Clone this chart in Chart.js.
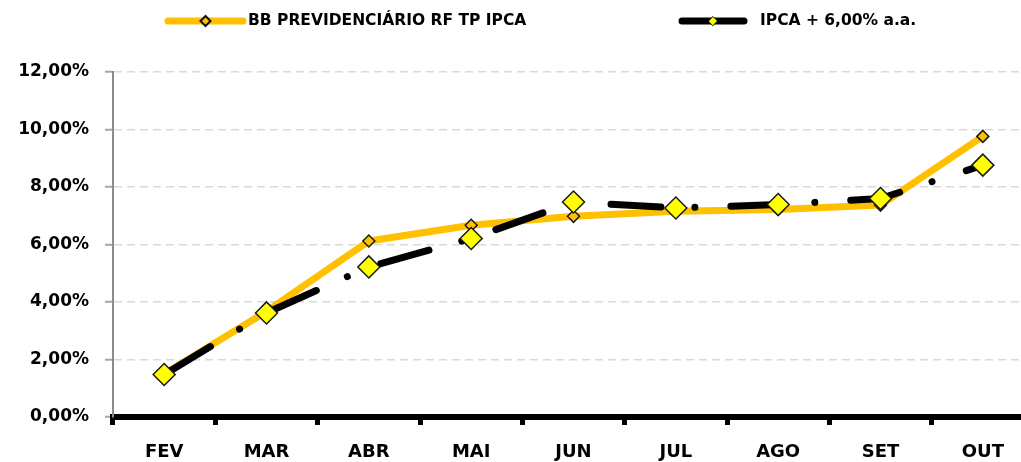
<!DOCTYPE html>
<html>
<head>
<meta charset="utf-8">
<script src="https://cdn.jsdelivr.net/npm/chart.js@4"></script>
<style>
  html, body { margin: 0; padding: 0; background: #fff; overflow: hidden; }
  canvas { display: block; }
</style>
</head>
<body>
<canvas id="chart" width="1021" height="462"></canvas>
<script>
// data
let months = ["FEV", "MAR", "ABR", "MAI", "JUN", "JUL", "AGO", "SET", "OUT"];
let fundName = "BB PREVIDENCIÁRIO RF TP IPCA";
let fundValues = [1.50, 3.67, 6.12, 6.67, 6.98, 7.16, 7.22, 7.37, 9.76];
let benchName = "IPCA + 6,00% a.a.";
let benchValues = [1.48, 3.62, 5.22, 6.21, 7.48, 7.27, 7.39, 7.60, 8.76];
let yTicks = [0, 2, 4, 6, 8, 10, 12];

let orange = "#FFC000";
let yellow = "#FFFF00";

Chart.defaults.font.family = "'DejaVu Sans', sans-serif";
Chart.defaults.font.weight = "bold";
Chart.defaults.color = "#000";

function pct(v) {
  return v.toFixed(2).replace(".", ",") + "%";
}

// legend drawn by hand: line sample with a diamond in the middle
function diamond(ctx, x, y, r, fill, stroke, lw) {
  ctx.beginPath();
  ctx.moveTo(x - r, y);
  ctx.lineTo(x, y - r);
  ctx.lineTo(x + r, y);
  ctx.lineTo(x, y + r);
  ctx.closePath();
  ctx.fillStyle = fill;
  ctx.fill();
  ctx.lineWidth = lw;
  ctx.strokeStyle = stroke;
  ctx.stroke();
}

const legendPlugin = {
  id: "lineLegend",
  afterDraw(chart) {
    const ctx = chart.ctx;
    const items = [
      { x1: 168, x2: 243, tx: 248, color: orange, mark: orange, r: 5, ds: 0 },
      { x1: 682, x2: 744, tx: 760, color: "#000", mark: yellow, r: 4.5, ds: 1 }
    ];
    const y = 21;
    ctx.save();
    items.forEach(it => {
      ctx.beginPath();
      ctx.moveTo(it.x1, y);
      ctx.lineTo(it.x2, y);
      ctx.lineWidth = 7;
      ctx.lineCap = "round";
      ctx.strokeStyle = it.color;
      ctx.stroke();
      diamond(ctx, (it.x1 + it.x2) / 2, y, it.r, it.mark, "#111", it.ds == 0 ? 2 : 1);
      ctx.fillStyle = "#000";
      ctx.font = "bold 15.5px 'DejaVu Sans'";
      ctx.textBaseline = "middle";
      ctx.textAlign = "left";
      ctx.fillText(chart.data.datasets[it.ds].label, it.tx, y);
    });
    ctx.restore();
  }
};

// the original plot area runs a little past the right edge of the picture
const plotRight = 1034;
const widenPlugin = {
  id: "widen",
  afterLayout(chart) {
    const x = chart.scales.x;
    chart.chartArea.right = plotRight;
    chart.chartArea.width = plotRight - chart.chartArea.left;
    x.right = plotRight;
    x.width = plotRight - x.left;
    x.configure();
  }
};

let ctx = document.getElementById("chart").getContext("2d");
let chart = new Chart(ctx, {
  type: "line",
  data: {
    labels: months,
    datasets: [
      {
        label: fundName,
        data: fundValues,
        order: 1,
        borderColor: orange,
        borderWidth: 7,
        borderJoinStyle: "round",
        borderCapStyle: "round",
        tension: 0,
        pointStyle: "rectRot",
        pointRadius: 6,
        pointBackgroundColor: orange,
        pointBorderColor: "#1a1a1a",
        pointBorderWidth: 1.5
      },
      {
        label: benchName,
        data: benchValues,
        order: 0,
        borderColor: "#000",
        borderWidth: 7,
        borderCapStyle: "round",
        borderJoinStyle: "round",
        borderDash: [50, 34, 0.01, 36],
        borderDashOffset: 116,
        tension: 0,
        pointStyle: "rectRot",
        pointRadius: 11,
        pointBackgroundColor: yellow,
        pointBorderColor: "#1a1a1a",
        pointBorderWidth: 1.5
      }
    ]
  },
  options: {
    responsive: false,
    animation: false,
    layout: { padding: { top: 72, left: 0, right: 0, bottom: 0 } },
    plugins: {
      legend: { display: false },
      tooltip: { enabled: false }
    },
    scales: {
      x: {
        offset: true,
        afterFit: s => { s.height = 45; },
        grid: {
          offset: true,
          drawOnChartArea: false,
          drawTicks: true,
          tickLength: 8,
          tickWidth: 5,
          tickColor: "#000"
        },
        border: { display: true, color: "#000", width: 6 },
        ticks: {
          autoSkip: false,
          maxRotation: 0,
          padding: 17,
          font: { size: 18, weight: "bold" },
          color: "#000"
        }
      },
      y: {
        min: 0,
        max: 12,
        afterFit: s => { s.width = 113; },
        afterBuildTicks: s => { s.ticks = yTicks.map(v => ({ value: v })); },
        grid: {
          color: "#dadada",
          lineWidth: 1.5,
          tickLength: 8,
          tickWidth: 2,
          tickColor: "#a6a6a6"
        },
        border: { display: true, color: "#8c8c8c", width: 2, dash: [8, 5] },
        ticks: {
          padding: 16,
          font: { size: 17, weight: "bold" },
          color: "#000",
          callback: v => pct(v)
        }
      }
    }
  },
  plugins: [widenPlugin, legendPlugin]
});
</script>
</body>
</html>
